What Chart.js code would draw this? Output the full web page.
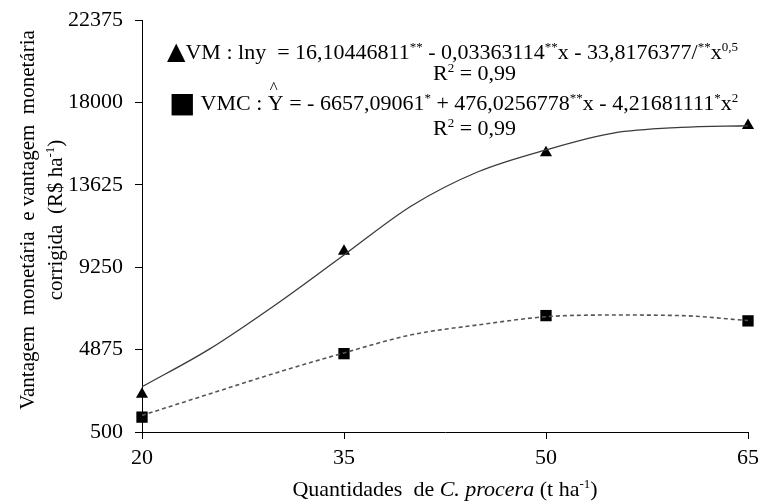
<!DOCTYPE html>
<html>
<head>
<meta charset="utf-8">
<script src="https://cdn.jsdelivr.net/npm/chart.js@4.4.1/dist/chart.umd.min.js"></script>
<style>
  html, body { margin: 0; padding: 0; background: #fff; }
  #wrap { position: relative; width: 762px; height: 502px; font-family: "Liberation Serif", "Times New Roman", serif; color: #000; }
  canvas { position: absolute; left: 0; top: 0; }
  .t { position: absolute; white-space: pre; font-size: 22px; line-height: 1; }
  .t sup { font-size: 13px; vertical-align: 0; position: relative; top: -8px; }
  .tri { font-family: "DejaVu Sans", sans-serif; font-size: 24px; }
  .sq { font-family: "DejaVu Sans", sans-serif; font-size: 28px; line-height: 0; position: relative; top: 2px; }
  .hat { position: relative; display: inline-block; }
  .hat span { position: absolute; left: 2px; top: -13px; font-size: 17px; }
  #ytitle { position: absolute; left: -179px; top: 192px; width: 440px; height: 56px; transform: rotate(-90deg);
            text-align: center; font-size: 21px; line-height: 28px; white-space: pre; }
  #ytitle sup, #xtitle sup { font-size: 13px; vertical-align: 0; position: relative; top: -8px; }
  #xtitle { position: absolute; left: 0; width: 890px; top: 476px; text-align: center; font-size: 22px; white-space: pre; }
</style>
</head>
<body>
<div id="wrap">
  <canvas id="chart" width="762" height="502"></canvas>
  <div class="t" style="left:167px; top:39px;"><span class="tri">▲</span>VM : lny  = 16,10446811<sup>**</sup> - 0,03363114<sup>**</sup>x - 33,8176377/<sup>**</sup>x<sup>0,5</sup></div>
  <div class="t" style="left:433px; top:62px;">R<sup>2</sup> = 0,99</div>
  <div class="t" style="left:169px; top:92px;"><span class="sq">■</span> VMC : <span class="hat">Y<span>^</span></span> = - 6657,09061<sup>*</sup> + 476,0256778<sup>**</sup>x - 4,21681111<sup>*</sup>x<sup>2</sup></div>
  <div class="t" style="left:433px; top:117px;">R<sup>2</sup> = 0,99</div>
  <div id="ytitle">Vantagem  monetária  e vantagem  monetária
corrigida  (R$ ha<sup>-1</sup>)</div>
  <div id="xtitle">Quantidades  de <i>C. procera</i> (t ha<sup>-1</sup>)</div>
</div>
<script>
// doses of C. procera (t/ha)
const doses = [20, 35, 50, 65];
const vmObs = [2500, 10100, 15330, 16770];
const vmcObs = [1290, 4660, 6680, 6400];

// fitted curves
const curveX = [20, 25, 30, 35, 40, 45, 50, 55, 60, 65];
const vmFit = [2900, 4900, 7300, 9900, 12500, 14330, 15480, 16370, 16670, 16760];
const vmcFit = [1380, 2520, 3650, 4700, 5660, 6190, 6620, 6710, 6680, 6420];

const yMin = 500, yMax = 22375, yStep = 4375;
const xMin = 20, xMax = 65, xStep = 15;

function pairs(xs, ys) {
    return xs.map((x, i) => ({ x: x, y: ys[i] }));
}

const tickFont = { family: "'Liberation Serif', 'Times New Roman', serif", size: 22 };

new Chart(document.getElementById('chart'), {
    type: 'line',
    data: {
        datasets: [
            {
                label: 'VM fit',
                data: pairs(curveX, vmFit),
                borderColor: '#3a3a3a',
                borderWidth: 1.3,
                pointRadius: 0,
                cubicInterpolationMode: 'monotone',
                fill: false
            },
            {
                label: 'VMC fit',
                data: pairs(curveX, vmcFit),
                borderColor: '#555',
                borderWidth: 1.6,
                borderDash: [4, 3],
                pointRadius: 0,
                cubicInterpolationMode: 'monotone',
                fill: false
            },
            {
                label: 'VM',
                data: pairs(doses, vmObs),
                showLine: false,
                pointStyle: 'triangle',
                pointRadius: 7,
                backgroundColor: '#000',
                borderColor: '#000',
                borderWidth: 0,
                clip: false
            },
            {
                label: 'VMC',
                data: pairs(doses, vmcObs),
                showLine: false,
                pointStyle: 'rect',
                pointRadius: 8,
                backgroundColor: '#000',
                borderColor: '#000',
                borderWidth: 0,
                clip: false
            }
        ]
    },
    options: {
        responsive: false,
        animation: false,
        layout: { padding: { top: 20, right: 14, left: 0, bottom: 0 } },
        plugins: { legend: { display: false }, tooltip: { enabled: false } },
        scales: {
            x: {
                type: 'linear',
                min: xMin,
                max: xMax,
                afterFit: (scale) => {
                    scale.height = 70;
                    scale.paddingLeft = 0;
                    scale.paddingRight = 0;
                },
                ticks: { stepSize: xStep, color: '#000', font: tickFont, padding: 6, maxRotation: 0 },
                grid: { drawOnChartArea: false, drawTicks: true, tickLength: 7, color: '#000' },
                border: { color: '#000', width: 1 }
            },
            y: {
                type: 'linear',
                min: yMin,
                max: yMax,
                afterFit: (scale) => {
                    scale.width = 142;
                    scale.paddingTop = 0;
                    scale.paddingBottom = 0;
                },
                ticks: { stepSize: yStep, color: '#000', font: tickFont, padding: 12,
                         callback: (v) => String(v) },
                grid: { drawOnChartArea: false, drawTicks: true, tickLength: 7, color: '#000' },
                border: { color: '#000', width: 1 }
            }
        }
    }
});
</script>
</body>
</html>
